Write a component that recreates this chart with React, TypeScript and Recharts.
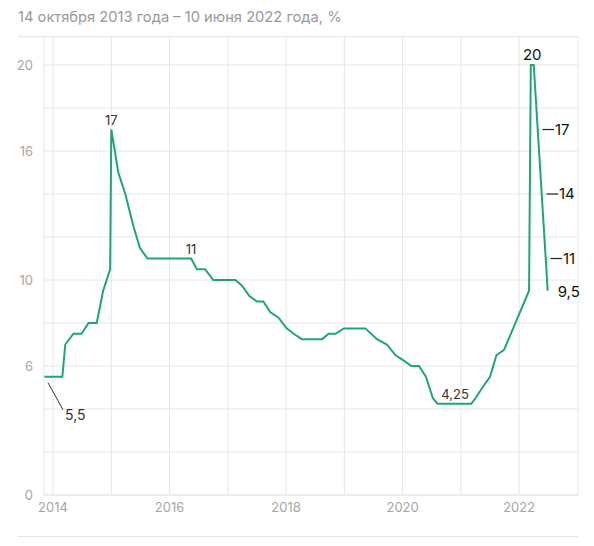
import React from 'react';
import { LineChart, Line, XAxis, YAxis, CartesianGrid, ReferenceDot } from 'recharts';

const dates = [
  2013.845, 2014.16, 2014.21, 2014.35, 2014.49, 2014.61, 2014.75, 2014.86, 2014.98, 2015.0,
  2015.12, 2015.24, 2015.38, 2015.49, 2015.62, 2016.37, 2016.47, 2016.61, 2016.75, 2017.13,
  2017.24, 2017.37, 2017.5, 2017.61, 2017.73, 2017.87, 2018.01, 2018.13, 2018.27, 2018.62,
  2018.73, 2018.85, 2018.99, 2019.36, 2019.56, 2019.73, 2019.88, 2020.02, 2020.15, 2020.28,
  2020.4, 2020.52, 2020.6, 2021.18, 2021.25, 2021.37, 2021.5, 2021.61, 2021.74, 2022.17,
  2022.2, 2022.25, 2022.49,
];
const rates = [
  5.5, 5.5, 7, 7.5, 7.5, 8, 8, 9.5, 10.5, 17,
  15, 14, 12.5, 11.5, 11, 11, 10.5, 10.5, 10, 10,
  9.75, 9.25, 9, 9, 8.5, 8.25, 7.75, 7.5, 7.25, 7.25,
  7.5, 7.5, 7.75, 7.75, 7.25, 7, 6.5, 6.25, 6, 6,
  5.5, 4.5, 4.25, 4.25, 4.5, 5, 5.5, 6.5, 6.75, 9.5,
  20, 20, 9.5,
];

const yTicks = [0, 2, 4, 6, 8, 10, 12, 14, 16, 18, 20];
const yLabels = [0, 6, 10, 16, 20];
const xTicks = [2014, 2015, 2016, 2017, 2018, 2019, 2020, 2021, 2022, 2023.01];
const xLabels = [2014, 2016, 2018, 2020, 2022];

const calloutDates = [2013.845, 2015.0, 2016.37, 2020.9, 2022.225, 2022.306, 2022.375, 2022.444, 2022.49];
const calloutRates = [5.5, 17, 11, 4.25, 20, 17, 14, 11, 9.5];
const calloutTexts = ['5,5', '17', '11', '4,25', '20', '17', '14', '11', '9,5'];
const calloutKinds = ['leader', 'above', 'above', 'above', 'peak', 'dash', 'dash', 'dash', 'end'];

const title = '14 октября 2013 года – 10 июня 2022 года, %';

const data = dates.map((d, i) => ({ date: d, rate: rates[i] }));

const FONT = 'Inter, "Noto Sans", sans-serif';
const GRID = '#e6e6e6';
const GREEN = '#1fa57a';

function renderCallout(kind: string, text: string) {
  return (props: any) => {
    const cx = props.cx;
    const cy = props.cy;
    if (kind === 'leader') {
      return (
        <g>
          <line x1={cx + 4} y1={cy + 6} x2={cx + 19} y2={cy + 33} stroke="#333" strokeWidth={1} />
          <text x={cx + 21} y={cy + 43} fontSize={14} fill="#333" fontFamily={FONT}>{text}</text>
        </g>
      );
    }
    if (kind === 'above') {
      return (
        <text x={cx} y={cy - 5} textAnchor="middle" fontSize={13} fill="#333" fontFamily={FONT}>{text}</text>
      );
    }
    if (kind === 'peak') {
      return (
        <text x={cx} y={cy - 5} textAnchor="middle" fontSize={15} fill="#111" fontFamily={FONT}>{text}</text>
      );
    }
    if (kind === 'dash') {
      return (
        <g>
          <line x1={cx + 5.5} y1={cy} x2={cx + 17} y2={cy} stroke="#222" strokeWidth={1.2} />
          <text x={cx + 18} y={cy + 5} fontSize={15} fill="#111" fontFamily={FONT}>{text}</text>
        </g>
      );
    }
    return (
      <text x={cx + 10} y={cy + 6} fontSize={15} fill="#111" fontFamily={FONT}>{text}</text>
    );
  };
}

export default function App() {
  return (
    <div style={{ position: 'absolute', left: 0, top: 0, width: 594, height: 546, background: '#fff', fontFamily: FONT }}>
      <div style={{ position: 'absolute', left: 18, top: 7, fontSize: 14.7, lineHeight: '20px', color: '#999', whiteSpace: 'nowrap' }}>
        {title}
      </div>
      <div style={{ position: 'absolute', left: 18, top: 35.5, width: 560, height: 1, background: GRID }} />
      <div style={{ position: 'absolute', left: 18, top: 535.5, width: 560, height: 1, background: GRID }} />
      <LineChart width={594} height={546} data={data} margin={{ top: 36, right: 16, left: 18, bottom: 21 }}>
        <CartesianGrid stroke={GRID} horizontalValues={yTicks} verticalValues={xTicks} />
        <XAxis
          dataKey="date"
          type="number"
          domain={[2013.845, 2023.01]}
          allowDataOverflow
          ticks={xTicks}
          interval={0}
          tickFormatter={(v: number) => (xLabels.includes(v) ? String(v) : '')}
          axisLine={{ stroke: GRID }}
          tickLine={false}
          tickSize={0}
          tickMargin={8}
          height={30}
          tick={{ fill: '#a6a6a6', fontSize: 13, fontFamily: FONT }}
        />
        <YAxis
          type="number"
          domain={[0, 21.35]}
          allowDataOverflow
          ticks={yTicks}
          interval={0}
          tickFormatter={(v: number) => (yLabels.includes(v) ? String(v) : '')}
          axisLine={{ stroke: GRID }}
          tickLine={false}
          tickSize={0}
          tickMargin={11}
          width={26}
          tick={{ fill: '#a6a6a6', fontSize: 13, fontFamily: FONT }}
        />
        <Line
          type="linear"
          dataKey="rate"
          stroke={GREEN}
          strokeWidth={2}
          dot={false}
          activeDot={false}
          isAnimationActive={false}
        />
        {calloutDates.map((d, i) => (
          <ReferenceDot
            key={i}
            x={d}
            y={calloutRates[i]}
            r={0}
            ifOverflow="visible"
            shape={renderCallout(calloutKinds[i], calloutTexts[i])}
          />
        ))}
      </LineChart>
    </div>
  );
}
